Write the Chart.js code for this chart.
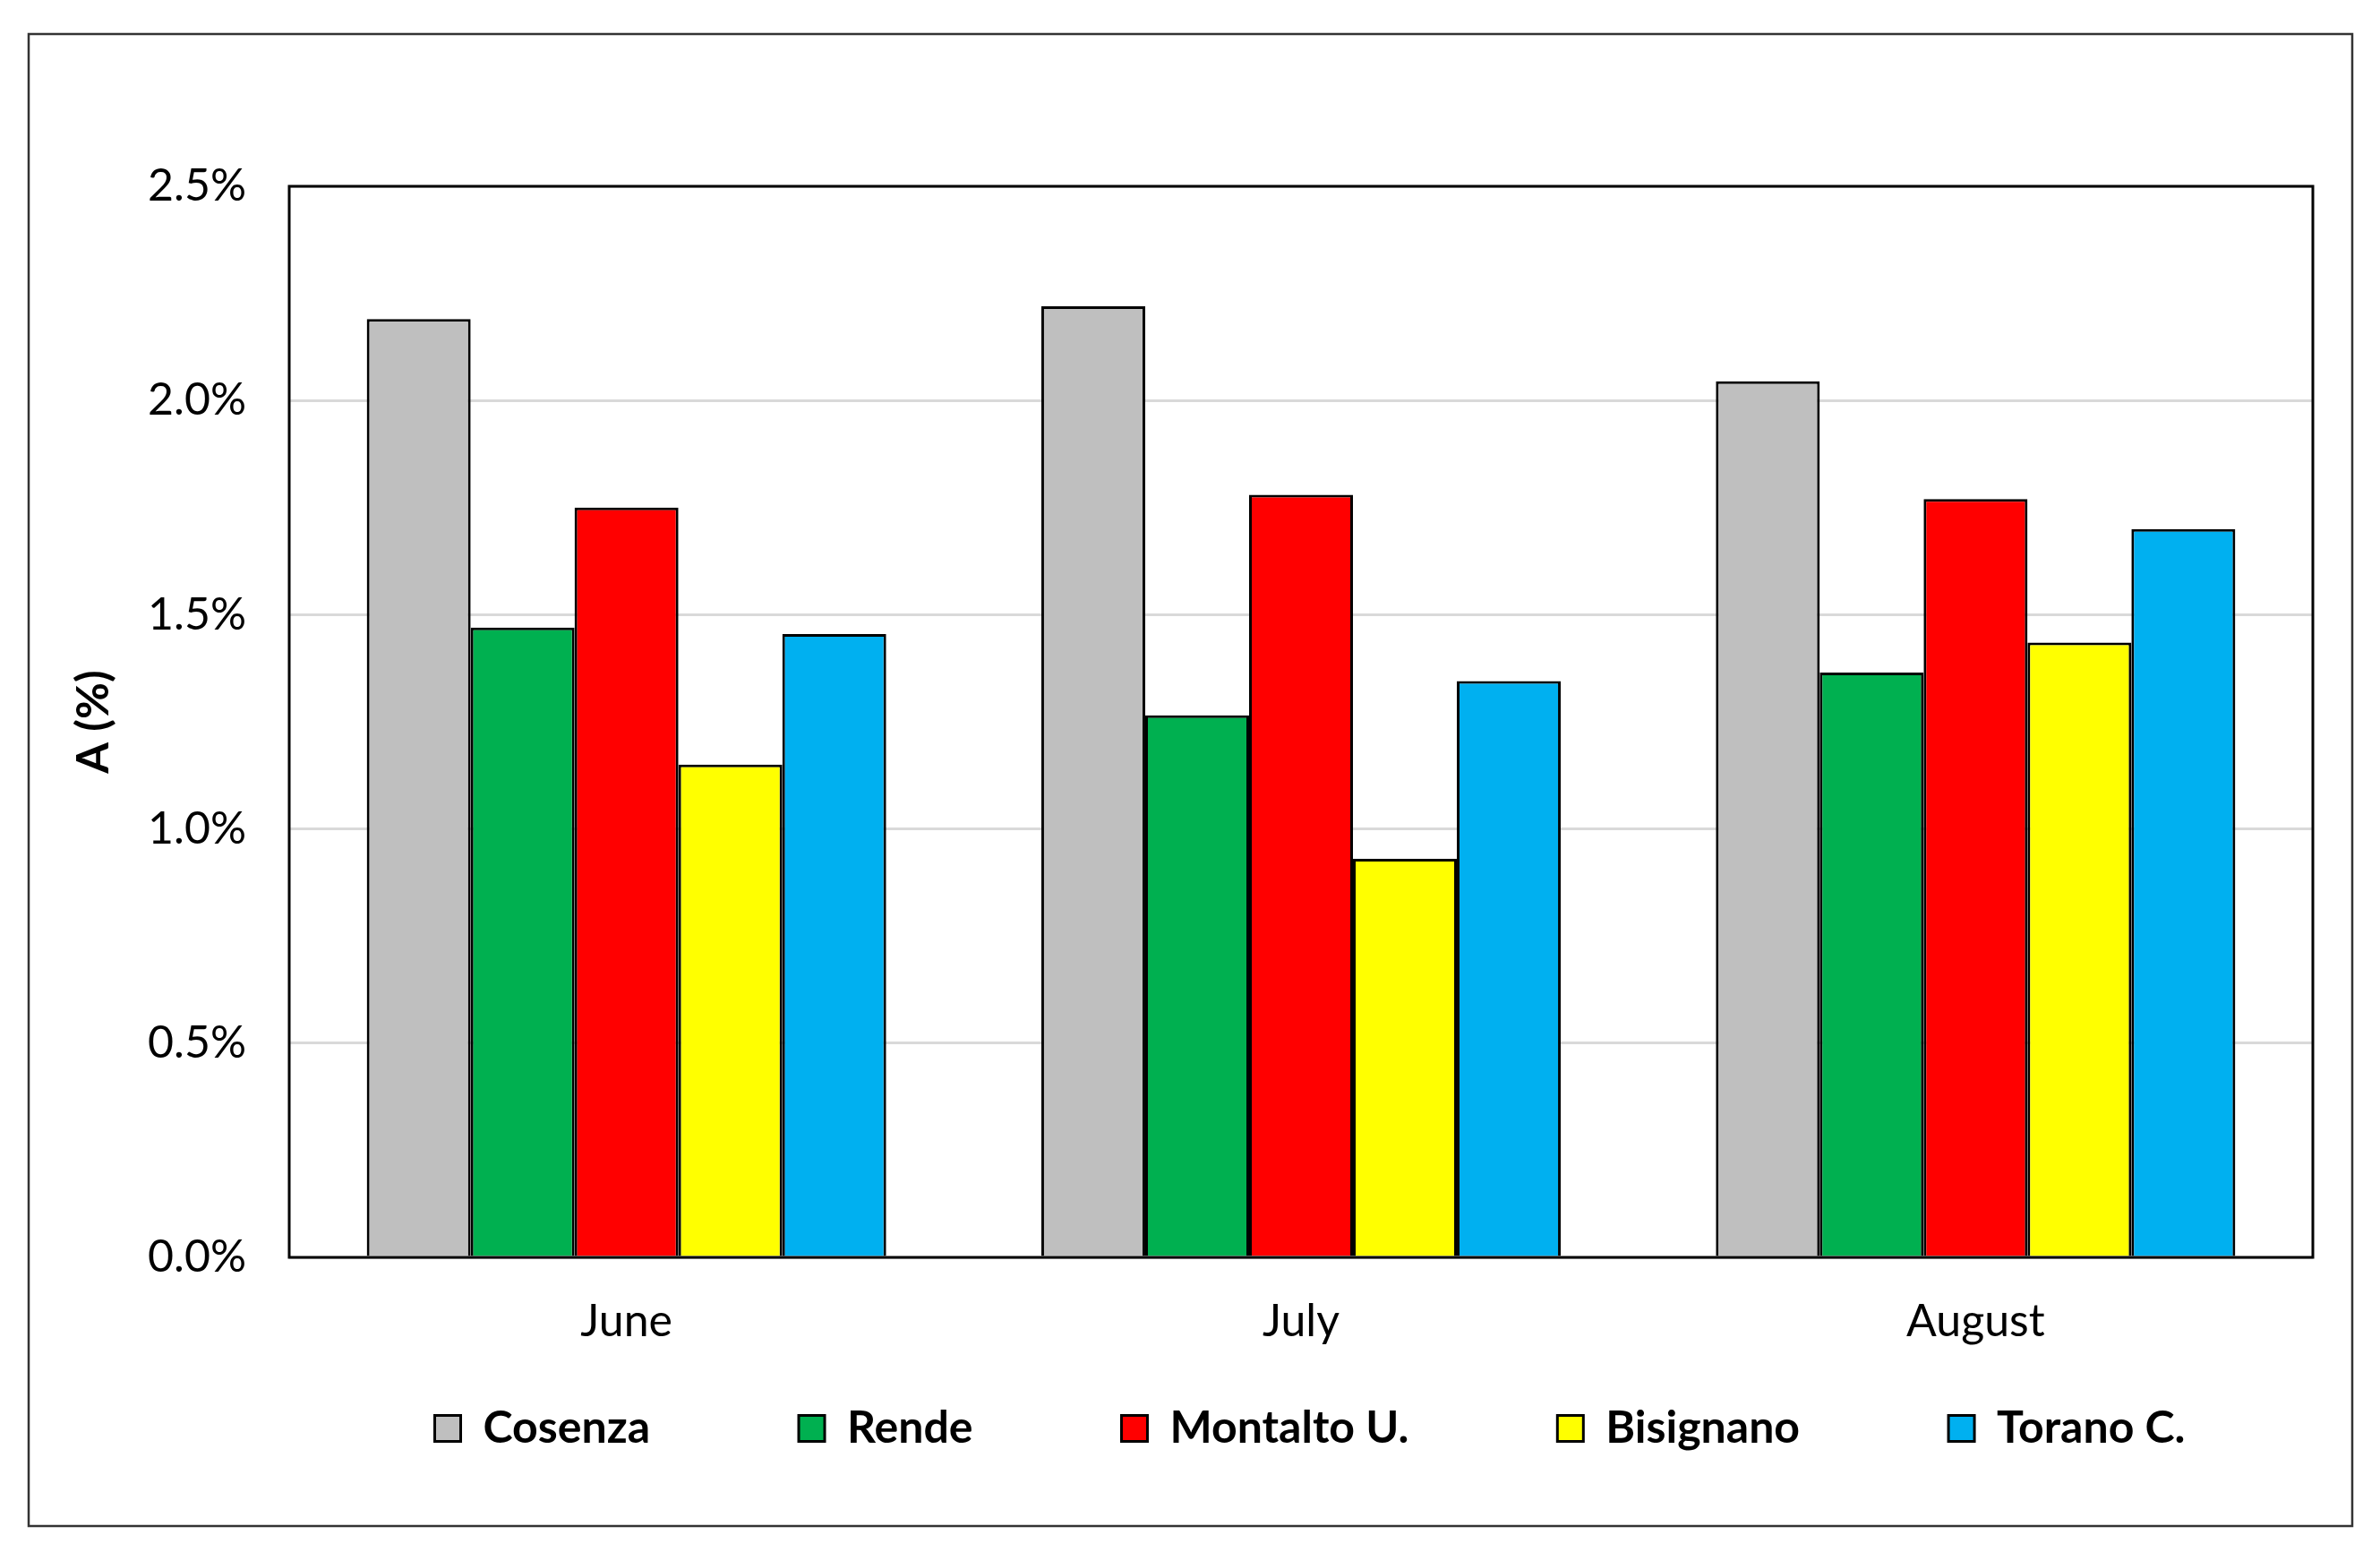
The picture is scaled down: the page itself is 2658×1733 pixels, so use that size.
<!DOCTYPE html>
<html>
<head>
<meta charset="utf-8">
<script src="https://cdn.jsdelivr.net/npm/chart.js@4.4.0/dist/chart.umd.min.js"></script>
<style>
  html, body { margin: 0; padding: 0; background: #fff; }
  canvas { display: block; }
</style>
</head>
<body>
<canvas id="graphA" width="2658" height="1733"></canvas>
<script>
// mois et villes
const mois = ["June", "July", "August"];
const villes = ["Cosenza", "Rende", "Montalto U.", "Bisignano", "Torano C."];
const couleurs = ["#bfbfbf", "#00b050", "#ff0000", "#ffff00", "#00b0f0"];

// valeurs A (%) par mois
const cosenza = [2.19, 2.22, 2.045];
const rende = [1.47, 1.265, 1.365];
const montalto = [1.75, 1.78, 1.77];
const bisignano = [1.15, 0.93, 1.435];
const torano = [1.455, 1.345, 1.70];
const valeurs = [cosenza, rende, montalto, bisignano, torano];

const yLabels = ["0.0%", "0.5%", "1.0%", "1.5%", "2.0%", "2.5%"];

Chart.defaults.font.family = "Lato, 'Open Sans', sans-serif";
Chart.defaults.color = "#000";

// cadre du graphique + cadre exterieur
const cadre = {
    id: 'cadre',
    afterLayout(chart) {
        // la legende colle sous les mois (padding horizontal large)
        const lg = chart.legend;
        const a = chart.chartArea;
        const decal = lg.top - a.bottom;
        lg.top -= decal;
        lg.bottom -= decal;
        const dx = (a.left + a.right) / 2 + 10 - (lg.left + lg.right) / 2;
        lg.left += dx;
        lg.right += dx;
    },
    beforeDraw(chart) {
        const c = chart.ctx;
        c.save();
        c.fillStyle = '#fff';
        c.fillRect(0, 0, chart.width, chart.height);
        c.restore();
    },
    afterDraw(chart) {
        const c = chart.ctx;
        const a = chart.chartArea;
        c.save();
        c.strokeStyle = '#000';
        c.lineWidth = 3;
        c.strokeRect(a.left, a.top, a.right - a.left, a.bottom - a.top);
        c.strokeStyle = '#333';
        c.lineWidth = 2.5;
        c.strokeRect(32, 38, 2595, 1666);
        c.restore();
    }
};

const ctx = document.getElementById('graphA');

new Chart(ctx, {
    type: 'bar',
    data: {
        labels: mois,
        datasets: villes.map((v, i) => ({
            label: v,
            data: valeurs[i],
            backgroundColor: couleurs[i],
            borderColor: '#000',
            borderWidth: 3,
            barPercentage: 1,
            categoryPercentage: 0.77,
        })),
    },
    options: {
        responsive: false,
        animation: false,
        layout: {
            padding: { top: 208, right: 75, left: 75, bottom: 3 },
        },
        scales: {
            y: {
                min: 0,
                max: 2.5,
                ticks: {
                    stepSize: 0.5,
                    padding: 48,
                    font: { size: 50 },
                    callback: (v, i) => yLabels[i],
                },
                grid: { color: '#d9d9d9', lineWidth: 3, drawTicks: false },
                border: { display: false },
                title: {
                    display: true,
                    text: 'A (%)',
                    font: { size: 50, weight: 'bold' },
                    padding: { top: 0, bottom: 0 },
                },
                afterFit(scale) { scale.width = 248; },
            },
            x: {
                grid: { display: false, drawTicks: false },
                border: { display: false },
                ticks: { padding: 42, font: { size: 50 } },
                afterFit(scale) { scale.height = 100; },
            },
        },
        plugins: {
            legend: {
                position: 'bottom',
                labels: {
                    boxWidth: 29,
                    boxHeight: 29,
                    padding: 166,
                    font: { size: 50, weight: 'bold' },
                },
            },
            tooltip: { enabled: false },
        },
    },
    plugins: [cadre],
});
</script>
</body>
</html>
